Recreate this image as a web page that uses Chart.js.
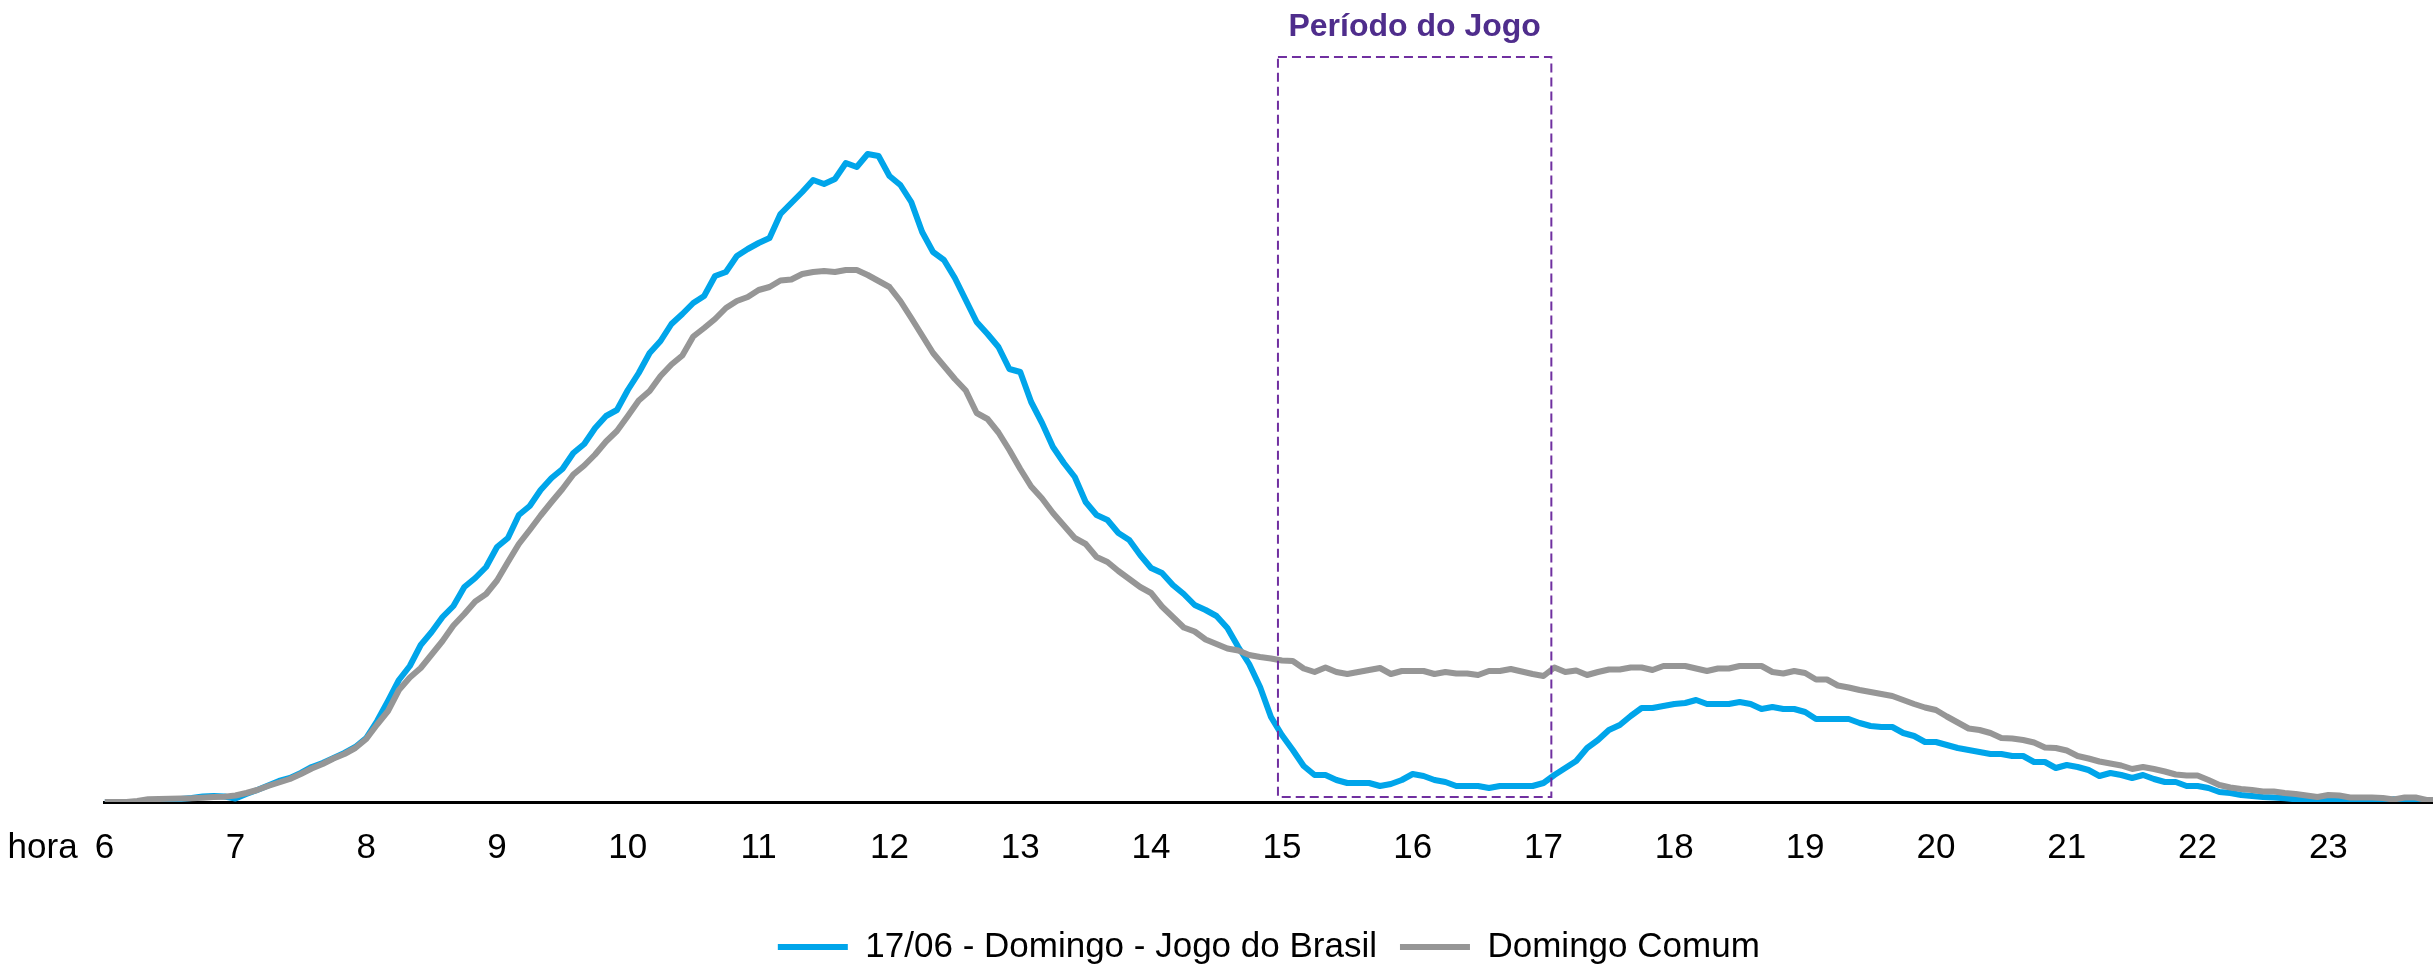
<!DOCTYPE html>
<html lang="pt-BR">
<head>
<meta charset="utf-8">
<title>Período do Jogo</title>
<script src="https://cdn.jsdelivr.net/npm/chart.js@4.4.1/dist/chart.umd.min.js"></script>
<style>
  html, body { margin: 0; padding: 0; background: #fff; }
  #grafico { display: block; }
</style>
</head>
<body>
<canvas id="grafico" width="2433" height="972"></canvas>
<script>
// rótulos do eixo x (uma marca por hora)
const horas = ['6', '7', '8', '9', '10', '11', '12', '13', '14', '15', '16', '17', '18', '19', '20', '21', '22', '23'];

// as séries começam às 06:00, uma medição a cada 5 minutos
const inicioSerie = 6;

const jogoBrasil = [
  0, 0, 0, 0, 0.5, 1.5, 2.5, 3, 4, 5.5, 6, 5.5,
  3.5, 8, 12, 16.5, 21, 24, 29, 35, 39, 44, 49, 55,
  64, 81, 101, 122, 136, 157, 170, 185, 196, 215, 224, 235,
  255, 264, 287, 296, 312, 324, 333, 349, 358, 374, 386, 392,
  412, 429, 449, 461, 478, 488, 499, 506, 526, 530, 546, 553,
  559, 564, 588, 599, 610, 622, 618, 623, 639, 635, 648, 646,
  626, 617, 600, 570, 550, 542, 524, 502, 480, 468, 455, 433,
  430, 400, 379, 355, 339, 325, 300, 287, 282, 269, 262, 247,
  234, 229, 217, 208, 197, 192, 186, 174, 155, 138, 115, 85,
  67, 52, 36, 27, 27, 22, 19, 19, 19, 16, 18, 22,
  28, 26, 22, 20, 16, 16, 16, 14, 16, 16, 16, 16,
  19, 27, 34, 41, 54, 62, 72, 77, 86, 94, 94, 96,
  98, 99, 102, 98, 98, 98, 100, 98, 93, 95, 93, 93,
  90, 83, 83, 83, 83, 79, 76, 75, 75, 69, 66, 60,
  60, 57, 54, 52, 50, 48, 48, 46, 46, 40, 40, 34,
  37, 35, 32, 26, 29, 27, 24, 27, 23, 20, 20, 16,
  16, 14, 10, 9, 7, 6, 5, 4.5, 3.7, 2.7, 2.2, 2,
  1.5, 1, 0.3, 0.3, 0.3, 0.3, 2.7, 0.3, 0.3, 0, 0
];

const domingoComum = [
  0, 0, 0, 1, 2.7, 3, 3.3, 3.5, 3.7, 4.3, 4.9, 5.2,
  6.5, 9, 12, 16, 19.5, 23, 28, 33.5, 38, 43.5, 48, 54,
  63, 77.5, 91, 112, 124.5, 134, 147.5, 161, 176.5, 188, 200.5, 208,
  221.5, 240, 258, 272, 286.5, 300, 313, 327.5, 336.5, 347.5, 360.5, 371,
  386, 401.5, 411, 426, 437.5, 446.5, 465.5, 474, 483, 494, 501, 505,
  512, 515, 521.5, 522.5, 528, 530, 531, 530, 532, 532, 527, 521,
  515, 501, 484, 466.5, 449, 436, 423, 411.5, 389, 383, 369.5, 352,
  333, 315.5, 303.5, 289, 276.5, 264, 258, 245, 240, 231, 223, 215,
  209, 195.5, 185, 174.5, 170.5, 162.5, 158, 153.5, 151.5, 147, 145, 143.5,
  141.5, 141, 133.5, 130, 134.5, 130, 128, 130, 132, 134, 128, 131,
  131, 131, 128, 130, 128.5, 128.5, 127, 131, 131, 133, 130.5, 128,
  126, 134.5, 130, 131.5, 127, 130, 132.5, 132.5, 134.5, 134.5, 132, 136,
  136, 136, 133.5, 131, 133.5, 133.5, 136, 136, 136, 130, 128.5, 131,
  129, 122.5, 122.5, 116.5, 114.5, 112, 110, 108, 106, 102, 98, 94.5,
  92, 85.5, 79.5, 73.5, 72, 69, 64, 63.5, 62, 59.5, 54.5, 54,
  51.5, 46, 43.5, 40.5, 38.5, 36.5, 33, 35, 33, 30.5, 27.5, 26.5,
  26.5, 22, 17, 14.5, 13, 12, 10.5, 10.5, 9, 8, 6.5, 5,
  7, 6.5, 4.5, 4.5, 4.5, 4, 2.5, 4.5, 4.5, 2, 2
];

// início e fim do jogo (em horas) para o retângulo tracejado
const periodoJogo = [14.97, 17.06];

const fonte = "'Liberation Sans Narrow', 'Arial Narrow', 'Liberation Sans', Arial, sans-serif";
const azul = '#00a5ea';
const cinza = '#969696';
const roxo = '#7030a0';

function pontos(serie) {
  return serie.map((v, i) => ({ x: inicioSerie + i / 12, y: v }));
}

// retângulo do período do jogo + rótulo "hora"
const extras = {
  id: 'extras',
  afterDatasetsDraw(chart) {
    const { ctx, scales: { x, y } } = chart;
    const x0 = x.getPixelForValue(periodoJogo[0]);
    const x1 = x.getPixelForValue(periodoJogo[1]);
    const yTopo = y.getPixelForValue(y.max);
    const yBase = y.getPixelForValue(5);

    ctx.save();
    ctx.strokeStyle = roxo;
    ctx.lineWidth = 2;
    ctx.setLineDash([9, 5]);
    ctx.strokeRect(x0, yTopo, x1 - x0, yBase - yTopo);
    ctx.setLineDash([]);

    ctx.fillStyle = '#4f2d8c';
    ctx.font = `bold 32px ${fonte}`;
    ctx.textAlign = 'center';
    ctx.textBaseline = 'middle';
    ctx.fillText('Período do Jogo', (x0 + x1) / 2, yTopo - 30);

    ctx.fillStyle = '#000';
    ctx.font = `35px ${fonte}`;
    ctx.fillText('hora', x.left - 62, x.top + 46);
    ctx.restore();
  }
};

const ctx = document.getElementById('grafico').getContext('2d');
const chart = new Chart(ctx, {
  type: 'line',
  data: {
    datasets: [
      {
        label: 'Domingo Comum',
        data: pontos(domingoComum),
        borderColor: cinza,
        backgroundColor: cinza,
        borderWidth: 6,
        pointRadius: 0,
        tension: 0,
        borderJoinStyle: 'round'
      },
      {
        label: '17/06 - Domingo - Jogo do Brasil',
        data: pontos(jogoBrasil),
        borderColor: azul,
        backgroundColor: azul,
        borderWidth: 6,
        pointRadius: 0,
        tension: 0,
        borderJoinStyle: 'round'
      }
    ]
  },
  options: {
    responsive: false,
    animation: false,
    events: [],
    layout: { padding: { left: 104.6, top: 57, right: 0, bottom: 0 } },
    scales: {
      x: {
        type: 'linear',
        min: 6,
        max: 23.8,
        grid: { display: false, drawTicks: false },
        border: { display: true, color: '#000', width: 3 },
        ticks: {
          stepSize: 1,
          includeBounds: false,
          autoSkip: false,
          maxRotation: 0,
          padding: 25,
          color: '#000',
          font: { family: fonte, size: 35 },
          callback: v => horas[v - inicioSerie] ?? ''
        },
        afterFit(scale) { scale.height = 104.5; }
      },
      y: { display: false, min: 0, max: 745 }
    },
    plugins: {
      tooltip: { enabled: false },
      legend: {
        position: 'bottom',
        fullSize: false,
        reverse: true,
        maxHeight: 65.5,
        labels: {
          boxWidth: 70,
          boxHeight: 6,
          padding: 23,
          color: '#000',
          font: { family: fonte, size: 35 },
          generateLabels(chart) {
            return Chart.defaults.plugins.legend.labels.generateLabels(chart)
              .map(l => ({ ...l, lineWidth: 0, fillStyle: l.strokeStyle }));
          }
        }
      }
    }
  },
  plugins: [extras]
});
</script>
</body>
</html>
